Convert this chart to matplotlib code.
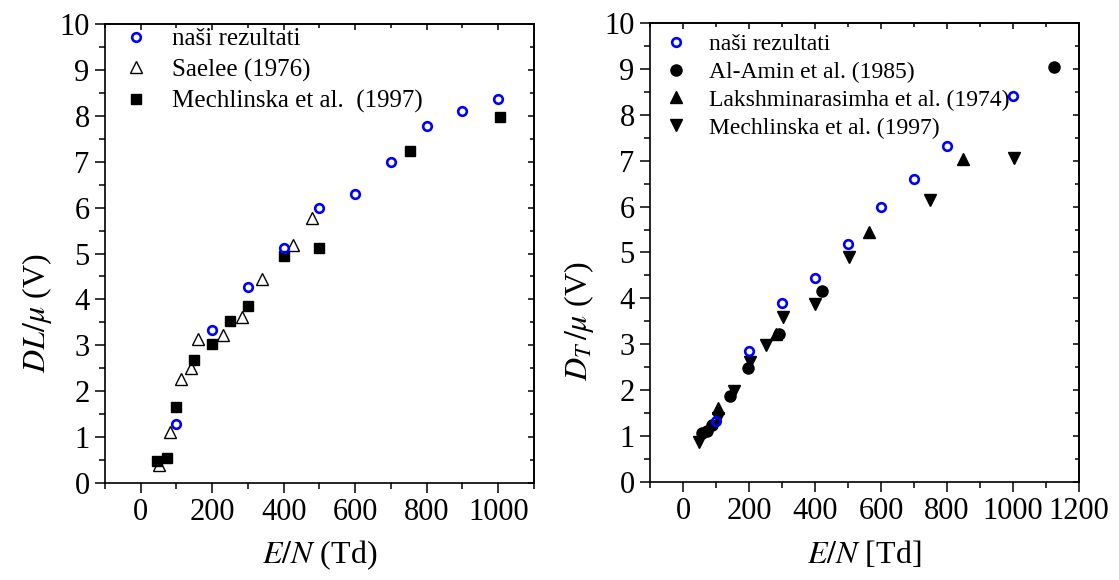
import matplotlib
matplotlib.use('Agg')
import matplotlib.pyplot as plt
from matplotlib.ticker import MultipleLocator

plt.rcParams['font.family'] = ['Liberation Serif', 'DejaVu Serif']
plt.rcParams['mathtext.fontset'] = 'stix'

# longitudinal D/mu
nasi_L_x = [100, 200, 300, 400, 500, 600, 700, 800, 900, 1000]
nasi_L_y = [1.29, 3.33, 4.26, 5.11, 5.99, 6.30, 6.99, 7.77, 8.11, 8.37]

saelee_x = [51, 82, 112, 141, 160, 230, 284, 340, 426, 479]
saelee_y = [0.40, 1.12, 2.26, 2.51, 3.13, 3.22, 3.62, 4.44, 5.19, 5.77]

mech_L_x = [45, 74, 100, 149, 200, 251, 300, 401, 500, 752, 1004]
mech_L_y = [0.48, 0.54, 1.65, 2.69, 3.02, 3.53, 3.86, 4.95, 5.13, 7.23, 7.97]

# transverse D/mu
nasi_T_x = [100, 200, 300, 400, 500, 600, 700, 800, 1000]
nasi_T_y = [1.33, 2.85, 3.91, 4.44, 5.19, 5.98, 6.61, 7.31, 8.40]

alamin_x = [57, 73, 88, 141, 197, 290, 422, 1125]
alamin_y = [1.06, 1.10, 1.24, 1.87, 2.48, 3.22, 4.16, 9.05]

laksh_x = [105, 283, 564, 848]
laksh_y = [1.61, 3.22, 5.44, 7.03]

mech_T_x = [48, 105, 153, 204, 252, 302, 400, 502, 749, 1002]
mech_T_y = [0.88, 1.39, 1.98, 2.62, 2.98, 3.60, 3.87, 4.90, 6.14, 7.06]

blue = '#0000ff'

fig = plt.figure(figsize=(11.19, 5.80), dpi=100)
ax1 = fig.add_axes([0.0938, 0.1672, 0.3834, 0.7914])
ax2 = fig.add_axes([0.5809, 0.1690, 0.3834, 0.7914])

ax1.plot(nasi_L_x, nasi_L_y, 'o', ls='none', ms=6.2, mfc='none', mec=blue, mew=1.9,
         label='naši rezultati', zorder=4)
ax1.plot(saelee_x, saelee_y, '^', ls='none', ms=8.5, mfc='white', mec='black', mew=1.0,
         label='Saelee (1976)', zorder=2)
ax1.plot(mech_L_x, mech_L_y, 's', ls='none', ms=7, mfc='black', mec='black',
         label='Mechlinska et al.  (1997)', zorder=3)

ax2.plot(nasi_T_x, nasi_T_y, 'o', ls='none', ms=6.2, mfc='none', mec=blue, mew=1.9,
         label='naši rezultati', zorder=4)
ax2.plot(alamin_x, alamin_y, 'o', ls='none', ms=8, mfc='black', mec='black',
         label='Al-Amin et al. (1985)', zorder=3)
ax2.plot(laksh_x, laksh_y, '^', ls='none', ms=9, mfc='black', mec='black',
         label='Lakshminarasimha et al. (1974)', zorder=2)
ax2.plot(mech_T_x, mech_T_y, 'v', ls='none', ms=9, mfc='black', mec='black',
         label='Mechlinska et al. (1997)', zorder=2)

ax1.set_xlim(-100, 1100)
ax2.set_xlim(-100, 1200)

for ax in (ax1, ax2):
    ax.set_ylim(0, 10)
    ax.xaxis.set_major_locator(MultipleLocator(200))
    ax.xaxis.set_minor_locator(MultipleLocator(100))
    ax.yaxis.set_major_locator(MultipleLocator(1))
    ax.yaxis.set_minor_locator(MultipleLocator(0.5))
    for sp in ax.spines.values():
        sp.set_linewidth(1.2)
    ax.tick_params(which='both', direction='out', width=1.1, labelsize=22,
                   top=False, right=False)
    ax.tick_params(which='major', length=7, pad=4)
    ax.tick_params(which='minor', length=4)
    # the top/right ticks point inwards
    sec_x = ax.secondary_xaxis('top')
    sec_y = ax.secondary_yaxis('right')
    for sec in (sec_x, sec_y):
        sec.tick_params(which='both', direction='in', width=1.1,
                        labeltop=False, labelright=False)
        sec.tick_params(which='major', length=4)
        sec.tick_params(which='minor', length=3)
    sec_x.xaxis.set_major_locator(MultipleLocator(200))
    sec_x.xaxis.set_minor_locator(MultipleLocator(100))
    sec_x.set_xticklabels([])
    sec_y.yaxis.set_major_locator(MultipleLocator(1))
    sec_y.yaxis.set_minor_locator(MultipleLocator(0.5))
    sec_y.set_yticklabels([])
    sec_x.spines['top'].set_linewidth(1.2)
    sec_y.spines['right'].set_linewidth(1.2)

ax1.set_xlabel(r'$E/N$ (Td)', fontsize=23, va='center')
ax2.set_xlabel(r'$E/N$ [Td]', fontsize=23, va='center')
ax1.xaxis.set_label_coords(0.5, -0.158)
ax2.xaxis.set_label_coords(0.5, -0.158)

ax1.set_ylabel(r'$DL/\mu$ (V)', fontsize=23, va='center')
ax2.set_ylabel(r'$D_T\,/\mu$ (V)', fontsize=23, va='center')
ax1.yaxis.set_label_coords(-0.158, 0.37)
ax2.yaxis.set_label_coords(-0.165, 0.35)

ax1.legend(loc='upper left', bbox_to_anchor=(0.035, 1.0), frameon=False,
           fontsize=18, handlelength=1.0, handletextpad=0.95, borderpad=0,
           borderaxespad=0.15, labelspacing=0.33)
ax2.legend(loc='upper left', bbox_to_anchor=(0.025, 0.985), frameon=False,
           fontsize=17, handlelength=1.0, handletextpad=0.9, borderpad=0,
           borderaxespad=0.15, labelspacing=0.27)

plt.savefig('out.png', dpi=100)
